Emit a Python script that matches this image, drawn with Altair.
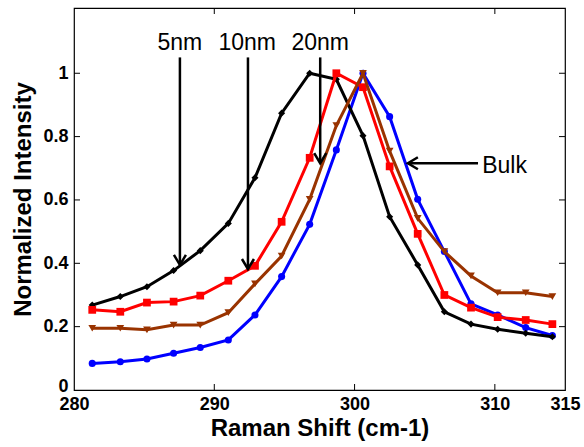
import altair as alt
import pandas as pd

# Raman shift positions (cm-1), shared by every spectrum
raman_shift = [281.3, 283.3, 285.2, 287.1, 289.0, 291.0, 292.9, 294.8, 296.8,
               298.7, 300.6, 302.5, 304.5, 306.4, 308.3, 310.2, 312.2, 314.1]

# Normalized intensities per particle size
intensity_5nm = [0.268, 0.295, 0.326, 0.377, 0.440, 0.526, 0.670, 0.874, 1.000,
                 0.981, 0.803, 0.547, 0.395, 0.247, 0.208, 0.192, 0.179, 0.168]
intensity_10nm = [0.253, 0.247, 0.276, 0.279, 0.298, 0.345, 0.392, 0.531, 0.733,
                  1.000, 0.956, 0.706, 0.493, 0.300, 0.260, 0.230, 0.221, 0.208]
intensity_20nm = [0.195, 0.195, 0.190, 0.205, 0.205, 0.244, 0.335, 0.423, 0.602,
                  0.835, 1.000, 0.754, 0.542, 0.437, 0.360, 0.307, 0.307, 0.295]
intensity_bulk = [0.084, 0.089, 0.098, 0.116, 0.134, 0.158, 0.237, 0.358, 0.523,
                  0.758, 1.000, 0.863, 0.602, 0.437, 0.272, 0.237, 0.197, 0.172]

series_names = ["5nm", "10nm", "20nm", "Bulk"]
series_values = [intensity_5nm, intensity_10nm, intensity_20nm, intensity_bulk]
series_colors = ["#000000", "#ff0000", "#993300", "#0000ff"]
series_shapes = ["diamond", "square", "triangle-down", "circle"]
series_sizes = [50, 60, 60, 50]
draw_order = ["Bulk", "5nm", "10nm", "20nm"]

# Axis ticks
x_ticks = [280, 290, 300, 310, 315]
y_ticks = [0, 0.2, 0.4, 0.6, 0.8, 1]
x_inner_ticks = [290, 300, 310]
y_inner_ticks = [0.2, 0.4, 0.6, 0.8, 1]

# Size annotations with downward arrows
arrow_labels = ["5nm", "10nm", "20nm"]
arrow_x = [287.55, 292.4, 297.55]
arrow_top = [1.05, 1.05, 1.05]
arrow_tip = [0.395, 0.382, 0.716]
label_x = [287.55, 292.35, 297.55]
label_y = [1.074, 1.074, 1.074]

# Bulk annotation with a leftward arrow
bulk_label = ["Bulk"]
bulk_arrow_tail = [308.8]
bulk_arrow_tip = [303.8]
bulk_arrow_y = [0.716]
bulk_label_x = [309.1]
bulk_label_y = [0.685]

FONT = "Liberation Sans"
W, H = 491, 382

x_scale = alt.Scale(domain=[280, 315], nice=False, zero=False)
y_scale = alt.Scale(domain=[0, 1.206], nice=False, zero=True)

x_axis = alt.Axis(values=x_ticks, ticks=False, domain=False, grid=False,
                  labelFont=FONT, labelFontSize=18, labelFontWeight="bold",
                  labelColor="black", labelPadding=5, labelFlush=False,
                  labelOverlap=False, title="Raman Shift (cm-1)",
                  titleFont=FONT, titleFontSize=24, titleFontWeight="bold",
                  titleColor="black", titlePadding=3)
y_axis = alt.Axis(values=y_ticks, ticks=False, domain=False, grid=False,
                  labelExpr="datum.value == 0 ? '0' : datum.value == 1 ? '1' : format(datum.value, '.1f')",
                  labelOffset=alt.condition("datum.value == 0", alt.value(-4), alt.value(0)),
                  labelFont=FONT, labelFontSize=18, labelFontWeight="bold",
                  labelColor="black", labelPadding=6, labelOverlap=False,
                  title="Normalized Intensity", titleFont=FONT, titleFontSize=24,
                  titleFontWeight="bold", titleColor="black", titlePadding=7)


def X(field="x"):
    return alt.X(f"{field}:Q", scale=x_scale, axis=x_axis)


def Y(field="y"):
    return alt.Y(f"{field}:Q", scale=y_scale, axis=y_axis)


layers = []
for name in draw_order:
    k = series_names.index(name)
    df = pd.DataFrame({"x": raman_shift, "y": series_values[k]})
    base = alt.Chart(df).encode(x=X(), y=Y())
    line = base.mark_line(color=series_colors[k], strokeWidth=3)
    pts = base.mark_point(shape=series_shapes[k], filled=True, opacity=1,
                          color=series_colors[k], size=series_sizes[k])
    layers += [line, pts]

# Inward tick marks on all four sides
xt = pd.DataFrame({"x": x_inner_ticks})
yt = pd.DataFrame({"y": y_inner_ticks})
tick_style = dict(color="black", strokeWidth=1)
layers.append(alt.Chart(xt).mark_rule(**tick_style).encode(
    x=X(), y=alt.value(H), y2=alt.value(H - 6)))
layers.append(alt.Chart(xt).mark_rule(**tick_style).encode(
    x=X(), y=alt.value(0), y2=alt.value(6)))
layers.append(alt.Chart(yt).mark_rule(**tick_style).encode(
    y=Y(), x=alt.value(0), x2=alt.value(6)))
layers.append(alt.Chart(yt).mark_rule(**tick_style).encode(
    y=Y(), x=alt.value(W), x2=alt.value(W - 6)))

# Downward arrows and their labels
arrows = pd.DataFrame({"x": arrow_x, "y": arrow_top, "y2": arrow_tip})
layers.append(alt.Chart(arrows).mark_rule(color="black", strokeWidth=2.5).encode(
    x=X(), y=Y(), y2="y2:Q"))
heads = pd.DataFrame({"x": arrow_x, "y": arrow_tip})
layers.append(alt.Chart(heads).mark_point(
    shape="M-0.6,-1L0,0L0.6,-1", filled=False, stroke="black",
    strokeWidth=2.5, opacity=1, size=400).encode(x=X(), y=Y()))
labels = pd.DataFrame({"x": label_x, "y": label_y, "t": arrow_labels})
layers.append(alt.Chart(labels).mark_text(
    font=FONT, fontSize=23, color="black", align="center",
    baseline="alphabetic").encode(x=X(), y=Y(), text="t:N"))

# Bulk arrow and label
bulk = pd.DataFrame({"x": bulk_arrow_tail, "x2": bulk_arrow_tip, "y": bulk_arrow_y})
layers.append(alt.Chart(bulk).mark_rule(color="black", strokeWidth=2.5).encode(
    x=X(), x2="x2:Q", y=Y()))
bulk_head = pd.DataFrame({"x": bulk_arrow_tip, "y": bulk_arrow_y})
layers.append(alt.Chart(bulk_head).mark_point(
    shape="M1,-0.6L0,0L1,0.6", filled=False, stroke="black",
    strokeWidth=2.5, opacity=1, size=400).encode(x=X(), y=Y()))
bulk_text = pd.DataFrame({"x": bulk_label_x, "y": bulk_label_y, "t": bulk_label})
layers.append(alt.Chart(bulk_text).mark_text(
    font=FONT, fontSize=23, color="black", align="left",
    baseline="alphabetic").encode(x=X(), y=Y(), text="t:N"))

chart = alt.layer(*layers).properties(
    width=W, height=H,
    autosize=alt.AutoSizeParams(type="none"),
    padding={"left": 74, "top": 8, "right": 584 - 74 - W, "bottom": 447 - 8 - H},
    background="white",
).configure_view(stroke="black", strokeWidth=1.2)

chart.save("out.html", embed_options={"renderer": "svg", "actions": False})
